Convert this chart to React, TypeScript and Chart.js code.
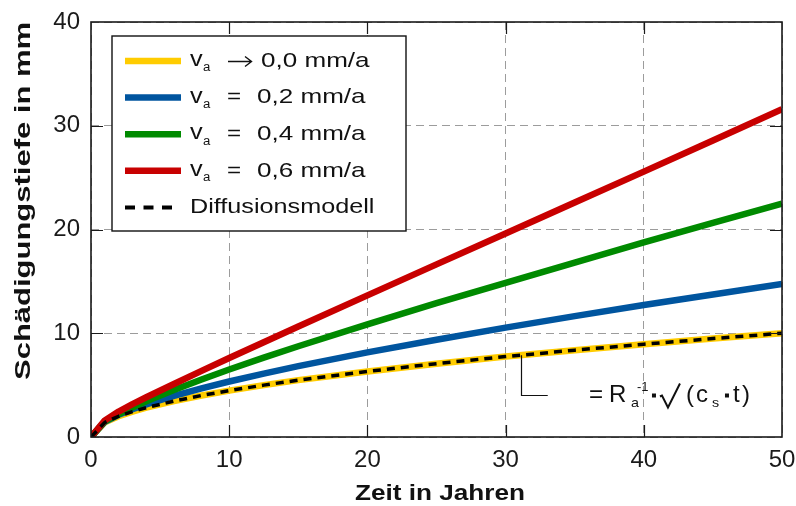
import React, { useEffect, useRef } from "react";
import { Chart, registerables } from "chart.js";

Chart.register(...registerables);

// ---- data ----
const years = [0, 1, 2, 3, 4, 6, 8, 10, 12.5, 15, 20, 25, 30, 35, 40, 45, 50];
const va00 = [0, 1.41, 2.0, 2.45, 2.83, 3.46, 4.0, 4.47, 5.0, 5.48, 6.32, 7.07, 7.75, 8.37, 8.94, 9.49, 10.0];
const va02 = [0, 1.47, 2.14, 2.68, 3.15, 3.97, 4.69, 5.35, 6.11, 6.83, 8.16, 9.38, 10.54, 11.65, 12.72, 13.74, 14.75];
const va04 = [0, 1.5, 2.2, 2.85, 3.44, 4.53, 5.54, 6.5, 7.65, 8.75, 10.85, 12.9, 14.85, 16.8, 18.75, 20.65, 22.5];
const va06 = [0, 1.6, 2.45, 3.17, 3.83, 5.11, 6.37, 7.61, 9.14, 10.65, 13.65, 16.64, 19.62, 22.6, 25.58, 28.58, 31.6];
const diffusion = [0, 1.41, 2.0, 2.45, 2.83, 3.46, 4.0, 4.47, 5.0, 5.48, 6.32, 7.07, 7.75, 8.37, 8.94, 9.49, 10.0];

const xTicks = [0, 10, 20, 30, 40, 50];
const yTicks = [0, 10, 20, 30, 40];

const legendOps = ["arrow", "=", "=", "="];
const legendValues = ["0,0 mm/a", "0,2 mm/a", "0,4 mm/a", "0,6 mm/a"];
const diffLabel = "Diffusionsmodell";
const xTitle = "Zeit in Jahren";
const yTitle = "Schädigungstiefe in mm";

// annotation anchor (data units)
const annotT = 31.1;
const annotY = 4.05;
const annotLineEndT = 33.05;
const annotTextT = 36.25;

const COLORS = ["#FFCC00", "#00559F", "#008A00", "#C80000"];
const FONT = '"Liberation Sans", Arial, Helvetica, sans-serif';

function txt(
  ctx: CanvasRenderingContext2D,
  s: string,
  x: number,
  y: number,
  size: number,
  sx = 1,
  bold = false,
  align: CanvasTextAlign = "left"
) {
  ctx.save();
  ctx.font = `${bold ? "bold " : ""}${size}px ${FONT}`;
  ctx.translate(x, y);
  ctx.scale(sx, 1);
  ctx.textAlign = align;
  ctx.textBaseline = "middle";
  ctx.fillStyle = "#111";
  ctx.fillText(s, 0, 0);
  ctx.restore();
}

function interp(xs: number[], ys: number[], t: number) {
  for (let i = 0; i < xs.length - 1; i++) {
    if (t >= xs[i] && t <= xs[i + 1]) {
      const f = (t - xs[i]) / (xs[i + 1] - xs[i]);
      return ys[i] + f * (ys[i + 1] - ys[i]);
    }
  }
  return ys[ys.length - 1];
}

const decorPlugin = {
  id: "decor",
  afterDraw(chart: any) {
    const { ctx, chartArea } = chart;
    const xs = chart.scales.x;
    const ys = chart.scales.y;
    const { left, right, top, bottom } = chartArea;

    ctx.save();
    // frame
    ctx.strokeStyle = "#1a1a1a";
    ctx.lineWidth = 1.6;
    ctx.strokeRect(left, top, right - left, bottom - top);

    // inner ticks
    ctx.lineWidth = 1.2;
    ctx.beginPath();
    xTicks.slice(1, -1).forEach((v) => {
      const px = Math.round(xs.getPixelForValue(v)) + 0.5;
      ctx.moveTo(px, bottom);
      ctx.lineTo(px, bottom - 12);
      ctx.moveTo(px, top);
      ctx.lineTo(px, top + 12);
    });
    yTicks.slice(1, -1).forEach((v) => {
      const py = Math.round(ys.getPixelForValue(v)) + 0.5;
      ctx.moveTo(left, py);
      ctx.lineTo(left + 12, py);
      ctx.moveTo(right, py);
      ctx.lineTo(right - 12, py);
    });
    ctx.stroke();

    // legend
    const lx = left + 21;
    const ly = top + 14;
    const lw = 294;
    const lh = 195;
    ctx.fillStyle = "#fff";
    ctx.fillRect(lx, ly, lw, lh);
    ctx.strokeStyle = "#111";
    ctx.lineWidth = 1.4;
    ctx.strokeRect(lx, ly, lw, lh);
    for (let i = 0; i < 4; i++) {
      const ry = ly + 25 + i * 36.6;
      ctx.strokeStyle = COLORS[i];
      ctx.lineWidth = 6.5;
      ctx.setLineDash([]);
      ctx.beginPath();
      ctx.moveTo(lx + 13, ry);
      ctx.lineTo(lx + 69, ry);
      ctx.stroke();
      txt(ctx, "v", lx + 78, ry - 1, 22, 1.15);
      txt(ctx, "a", lx + 91, ry + 7, 12, 1.1);
      if (legendOps[i] === "=") {
        txt(ctx, "=", lx + 115, ry, 21, 1.15);
        txt(ctx, legendValues[i], lx + 145, ry, 21, 1.24);
      } else {
        // long right arrow
        ctx.strokeStyle = "#111";
        ctx.lineWidth = 1.4;
        ctx.beginPath();
        ctx.moveTo(lx + 116, ry + 0.5);
        ctx.lineTo(lx + 139, ry + 0.5);
        ctx.moveTo(lx + 133, ry - 4.5);
        ctx.lineTo(lx + 139.5, ry + 0.5);
        ctx.lineTo(lx + 133, ry + 5.5);
        ctx.stroke();
        txt(ctx, legendValues[i], lx + 149, ry, 21, 1.24);
      }
    }
    {
      const ry = ly + 25 + 4 * 36.6;
      ctx.strokeStyle = "#000";
      ctx.lineWidth = 4;
      ctx.setLineDash([10, 8.5]);
      ctx.beginPath();
      ctx.moveTo(lx + 13, ry);
      ctx.lineTo(lx + 61, ry);
      ctx.stroke();
      ctx.setLineDash([]);
      txt(ctx, diffLabel, lx + 78, ry, 21, 1.2);
    }

    // annotation
    const ax = Math.round(xs.getPixelForValue(annotT)) + 0.5;
    const ay1 = ys.getPixelForValue(interp(years, va00, annotT));
    const ay2 = Math.round(ys.getPixelForValue(annotY)) + 0.5;
    const ax2 = xs.getPixelForValue(annotLineEndT);
    ctx.strokeStyle = "#111";
    ctx.lineWidth = 1.2;
    ctx.beginPath();
    ctx.moveTo(ax, ay1);
    ctx.lineTo(ax, ay2);
    ctx.lineTo(ax2, ay2);
    ctx.stroke();

    const x0 = xs.getPixelForValue(annotTextT);
    const y0 = ay2;
    txt(ctx, "=", x0 - 3, y0, 23, 1.05);
    txt(ctx, "R", x0 + 17, y0, 24, 1.0);
    txt(ctx, "a", x0 + 39, y0 + 8, 13, 1.1);
    txt(ctx, "-1", x0 + 45, y0 - 8, 13, 1.0);
    ctx.fillStyle = "#111";
    ctx.fillRect(x0 + 60, y0 - 2, 4, 4);
    // radical sign
    ctx.strokeStyle = "#111";
    ctx.lineWidth = 2;
    ctx.lineJoin = "miter";
    ctx.beginPath();
    ctx.moveTo(x0 + 68, y0 + 1);
    ctx.lineTo(x0 + 70, y0);
    ctx.lineTo(x0 + 76, y0 + 12);
    ctx.lineTo(x0 + 88, y0 - 12);
    ctx.stroke();
    txt(ctx, "(", x0 + 94, y0, 24, 1.0);
    txt(ctx, "c", x0 + 104, y0, 24, 1.0);
    txt(ctx, "s", x0 + 120, y0 + 8, 13, 1.1);
    ctx.fillStyle = "#111";
    ctx.fillRect(x0 + 133, y0 - 2, 4, 4);
    txt(ctx, "t", x0 + 141, y0, 24, 1.0);
    txt(ctx, ")", x0 + 150, y0, 24, 1.0);

    // axis titles
    ctx.font = `bold 22px ${FONT}`;
    const wx = ctx.measureText(xTitle).width;
    txt(ctx, xTitle, 440, 494, 22, 170 / wx, true, "center");
    const wy = ctx.measureText(yTitle).width;
    ctx.save();
    ctx.translate(24, 201);
    ctx.rotate(-Math.PI / 2);
    txt(ctx, yTitle, 0, 0, 22, 358 / wy, true, "center");
    ctx.restore();

    ctx.restore();
  },
};

export default function App() {
  const ref = useRef<HTMLCanvasElement>(null);

  useEffect(() => {
    if (!ref.current) return;
    const mk = (data: number[]) => years.map((t, i) => ({ x: t, y: data[i] }));
    const chart = new Chart(ref.current, {
      type: "line",
      data: {
        datasets: [
          { label: "diff", data: mk(diffusion), borderColor: "#000", borderWidth: 3.5, borderDash: [8, 6], order: 0 },
          { label: "0.6", data: mk(va06), borderColor: COLORS[3], borderWidth: 6.5, order: 1 },
          { label: "0.4", data: mk(va04), borderColor: COLORS[2], borderWidth: 6.5, order: 2 },
          { label: "0.2", data: mk(va02), borderColor: COLORS[1], borderWidth: 6.5, order: 3 },
          { label: "0.0", data: mk(va00), borderColor: COLORS[0], borderWidth: 6.5, order: 4 },
        ] as any,
      },
      options: {
        animation: false,
        responsive: false,
        events: [],
        layout: { padding: { top: 22, right: 14, left: 0, bottom: 0 } },
        elements: {
          point: { radius: 0 },
          line: { tension: 0, fill: false, borderCapStyle: "butt", borderJoinStyle: "round" },
        },
        plugins: { legend: { display: false }, tooltip: { enabled: false } },
        scales: {
          x: {
            type: "linear",
            min: 0,
            max: 50,
            afterBuildTicks: (s: any) => {
              s.ticks = xTicks.map((v) => ({ value: v }));
            },
            afterFit: (s: any) => {
              s.height = 69;
              s.paddingLeft = 0;
              s.paddingRight = 0;
            },
            ticks: {
              autoSkip: false,
              maxRotation: 0,
              padding: 9,
              color: "#1a1a1a",
              font: { family: FONT, size: 24 },
            },
            grid: { color: "#9c9c9c", lineWidth: 1, drawTicks: false },
            border: { display: false, dash: [8, 5] },
          },
          y: {
            type: "linear",
            min: 0,
            max: 40,
            afterBuildTicks: (s: any) => {
              s.ticks = yTicks.map((v) => ({ value: v }));
            },
            afterFit: (s: any) => {
              s.width = 91;
              s.paddingTop = 0;
              s.paddingBottom = 0;
            },
            ticks: {
              padding: 11,
              color: "#1a1a1a",
              font: { family: FONT, size: 24 },
            },
            grid: { color: "#9c9c9c", lineWidth: 1, drawTicks: false },
            border: { display: false, dash: [8, 5] },
          },
        },
      } as any,
      plugins: [decorPlugin],
    });
    return () => chart.destroy();
  }, []);

  return (
    <div style={{ position: "fixed", left: 0, top: 0, width: 796, height: 506, background: "#fff" }}>
      <canvas ref={ref} width={796} height={506} style={{ width: 796, height: 506, display: "block" }} />
    </div>
  );
}
